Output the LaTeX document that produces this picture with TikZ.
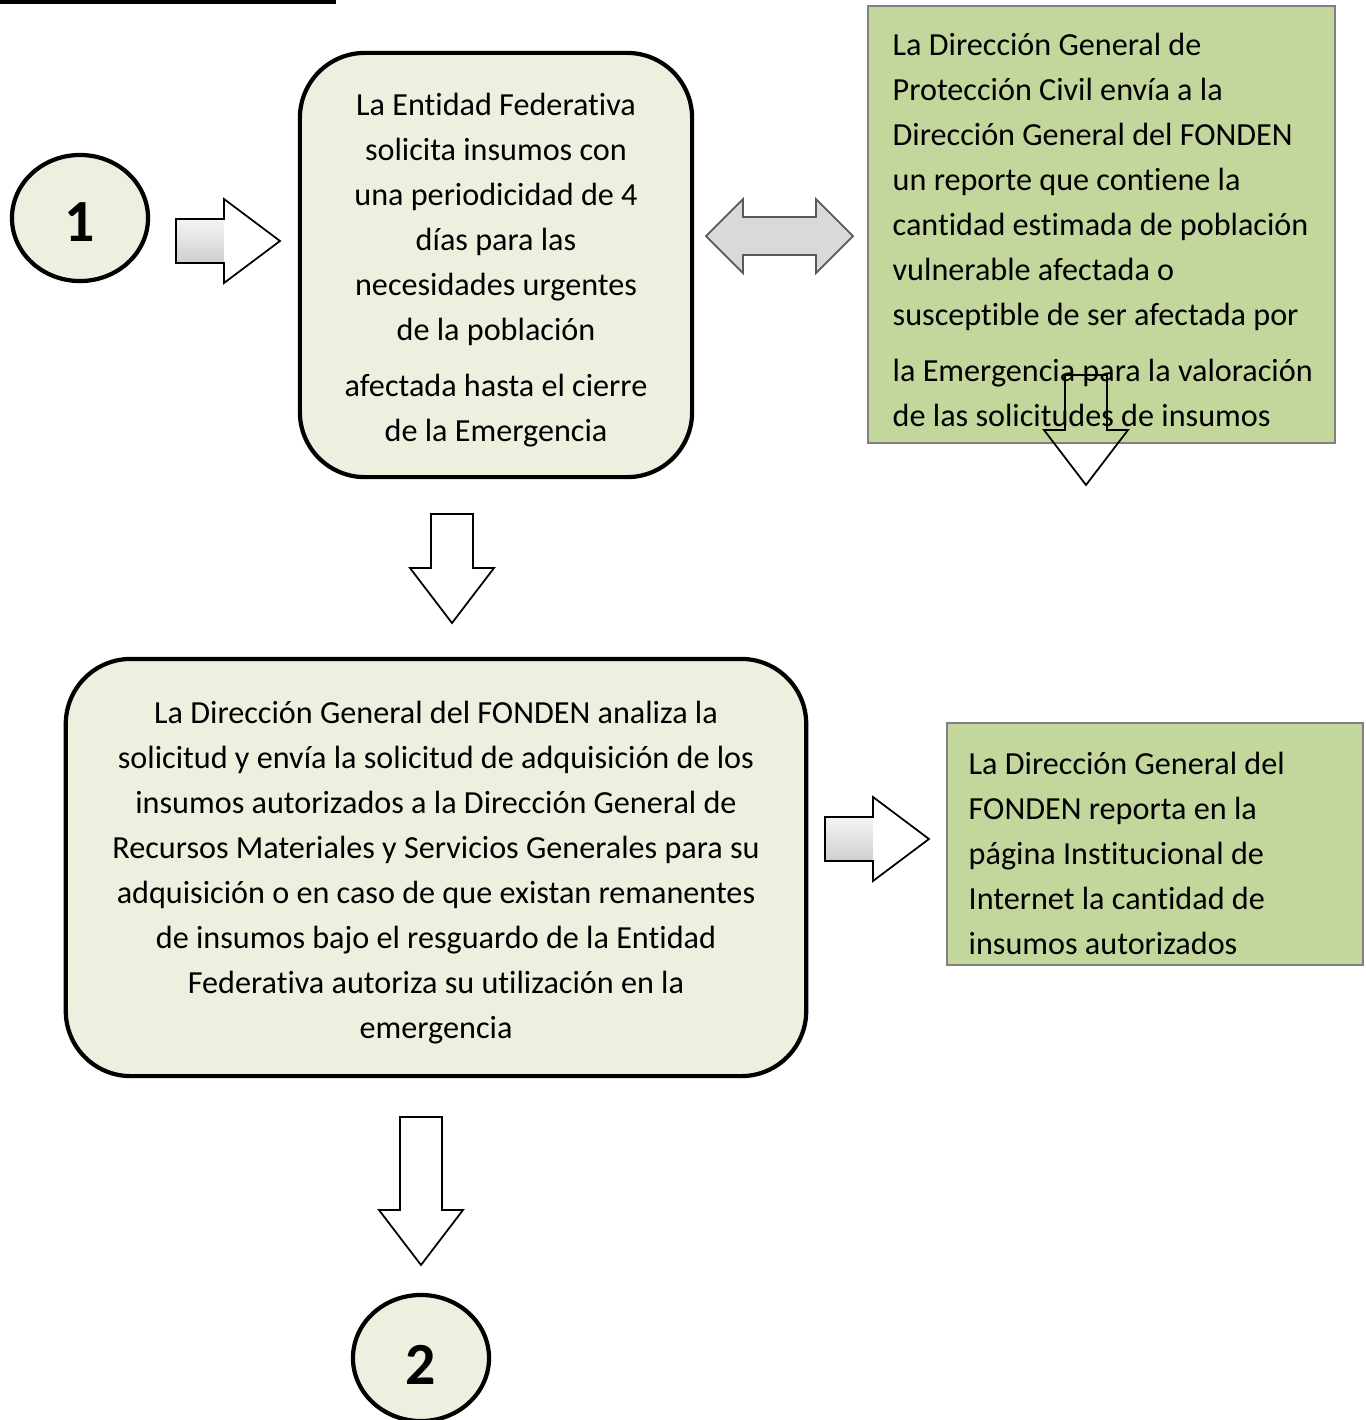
\documentclass[tikz,border=0pt]{standalone}
\usepackage{fontspec}
\setmainfont{Carlito}[Ligatures=NoCommon]
\usetikzlibrary{positioning,shapes.geometric}
\definecolor{verdeclaro}{HTML}{EBF1DE}
\definecolor{verde}{HTML}{C3D69B}
\definecolor{grisflecha}{HTML}{D9D9D9}
\tikzset{
  caja/.style={draw,line width=1.2pt,fill=verdeclaro,rounded corners=0.65cm,inner sep=0pt},
  nota/.style={draw=gray,line width=0.4pt,fill=verde,inner sep=0pt},
  texto/.style={align=center,inner sep=0pt},
  textonota/.style={align=flush left,inner sep=0pt,anchor=west},
  conector/.style={draw,line width=1.2pt,fill=verdeclaro,ellipse,inner sep=0pt,
    minimum width=1.36cm,minimum height=1.26cm,font=\fontsize{17}{20}\selectfont\bfseries},
  flecha/.style={draw=black,line width=0.5pt,line join=miter}
}
% flecha hacia abajo: x del eje, y de la cola, largo
\newcommand{\flechaabajo}[4][fill=white]{%
  \draw[flecha,#1] (#2-21,#3)--(#2+21,#3)--(#2+21,#3+#4-55)--(#2+42,#3+#4-55)
    --(#2,#3+#4)--(#2-42,#3+#4-55)--(#2-21,#3+#4-55)--cycle;}
% flecha hacia la derecha: x de la cola, y del eje
\newcommand{\flechader}[2]{%
  \shade[top color=gray!8,bottom color=gray!38] (#1,#2-22) rectangle (#1+48,#2+22);
  \fill[white] (#1+48,#2-42)--(#1+104,#2)--(#1+48,#2+42)--cycle;
  \draw[flecha] (#1,#2-22)--(#1+48,#2-22)--(#1+48,#2-42)--(#1+104,#2)
    --(#1+48,#2+42)--(#1+48,#2+22)--(#1,#2+22)--cycle;}
\begin{document}
\begin{tikzpicture}[x=0.01cm,y=-0.01cm,font=\fontsize{9.15}{12.8}\selectfont]
  \useasboundingbox (0,0) rectangle (1366,1420);
  \draw[line width=1.1pt](0,1.8)--(336,1.8);%raya superior

  \node[conector](uno) at (80,218){};
  \node[inner sep=0pt,font=\fontsize{17}{20}\selectfont\bfseries](unotxt) at (80,222){1};
  \node[caja,minimum width=3.92cm,minimum height=4.24cm](entidad) at (496,265){};
  \node[texto](entidadtxt) at (496,270){%
    La Entidad Federativa\\ solicita insumos con\\ una periodicidad de 4\\ días para las\\
    necesidades urgentes\\ de la población\\[3.3pt] afectada hasta el cierre\\ de la Emergencia};
  \node[nota,minimum width=4.67cm,minimum height=4.37cm](proteccion) at (1101.5,224.5){};
  \node[textonota](protecciontxt) at (892,230){%
    La Dirección General de\\ Protección Civil envía a la\\ Dirección General del FONDEN\\
    un reporte que contiene la\\ cantidad estimada de población\\ vulnerable afectada o\\
    susceptible de ser afectada por\\[3.3pt] la Emergencia para la valoración\\
    de las solicitudes de insumos};
  \node[caja,minimum width=7.4cm,minimum height=4.17cm](fonden) at (436,867.5){};
  \node[texto](fondentxt) at (436,872.5){%
    La Dirección General del FONDEN analiza la\\ solicitud y envía la solicitud de adquisición de los\\
    insumos autorizados a la Dirección General de\\ Recursos Materiales y Servicios Generales para su\\
    adquisición o en caso de que existan remanentes\\ de insumos bajo el resguardo de la Entidad\\
    Federativa autoriza su utilización en la\\ emergencia};
  \node[nota,minimum width=4.16cm,minimum height=2.42cm](reporte) at (1155,844){};
  \node[textonota](reportetxt) at (968,853){%
    La Dirección General del\\ FONDEN reporta en la\\ página Institucional de\\
    Internet la cantidad de\\ insumos autorizados};
  \node[conector](dos) at (421,1358){};
  \node[inner sep=0pt,font=\fontsize{17}{20}\selectfont\bfseries](dostxt) at (421,1365){2};

  \flechader{176}{241}
  \draw[flecha,draw=gray!70!black,fill=grisflecha](706,236)--(743,199)--(743,217)--(816,217)--(816,199)
    --(853,236)--(816,273)--(816,255)--(743,255)--(743,273)--cycle;%doble
  \flechaabajo[fill=none]{1086}{375}{110}
  \flechaabajo{452}{514}{109}
  \flechader{825}{839}
  \flechaabajo{421}{1117}{148}
\end{tikzpicture}
\end{document}
